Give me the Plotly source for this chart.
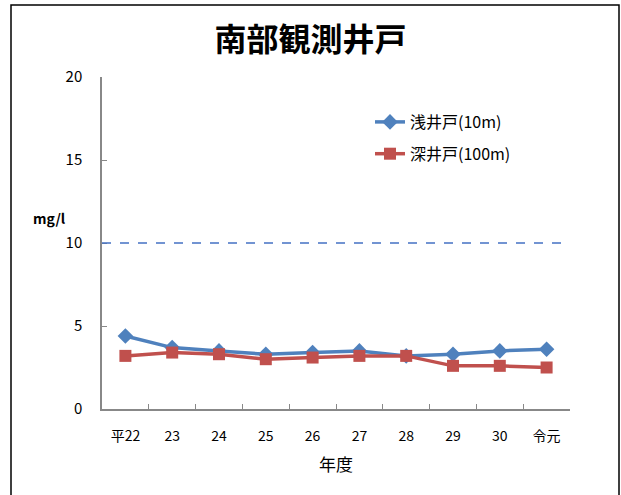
import plotly.graph_objects as go

categories = ["平22", "23", "24", "25", "26", "27", "28", "29", "30", "令元"]
shallow = [4.4, 3.7, 3.5, 3.3, 3.4, 3.5, 3.2, 3.3, 3.5, 3.6]
deep = [3.2, 3.4, 3.3, 3.0, 3.1, 3.2, 3.2, 2.6, 2.6, 2.5]
standard = 10
y_ticks = [0, 5, 10, 15, 20]

FONT = "Noto Sans CJK JP, Noto Sans, sans-serif"

fig = go.Figure()
fig.add_trace(go.Scatter(
    x=categories, y=shallow, name="浅井戸(10m)", mode="lines+markers",
    line=dict(color="#4F81BD", width=3.5),
    marker=dict(symbol="diamond", size=12, color="#4F81BD"),
    legendgroup="a"))
fig.add_trace(go.Scatter(
    x=categories, y=deep, name="深井戸(100m)", mode="lines+markers",
    line=dict(color="#C0504D", width=3.5),
    marker=dict(symbol="square", size=12, color="#C0504D"),
    legendgroup="b"))

fig.add_shape(type="line", xref="x", yref="y", x0=-0.5, x1=9.35,
              y0=standard, y1=standard,
              line=dict(color="#4472C4", width=1.5, dash="dash"))

# outer border
fig.add_shape(type="rect", xref="paper", yref="paper",
              x0=(11-102)/468, x1=(619-102)/468,
              y0=(409-500)/332, y1=(409-5)/332,
              line=dict(color="black", width=1.5))

fig.update_layout(
    width=621, height=495,
    margin=dict(l=102, r=51, t=77, b=86),
    paper_bgcolor="white", plot_bgcolor="white",
    font=dict(family=FONT, size=13, color="black"),
    title=dict(text="<b>南部観測井戸</b>", x=0.5, xanchor="center",
               y=1-40/495, yanchor="middle",
               font=dict(size=32, family=FONT, color="black")),
    legend=dict(x=(370-102)/468, y=(409-105)/332, xanchor="left", yanchor="top",
                bgcolor="rgba(0,0,0,0)", tracegroupgap=8,
                font=dict(size=16, family=FONT)),
    showlegend=True,
    xaxis=dict(type="category", range=[-0.5, 9.5], showline=True,
               linecolor="#888888", linewidth=1.5, ticks="inside",
               tickson="boundaries", ticklen=5, tickcolor="#888888",
               showgrid=False, zeroline=False,
               tickfont=dict(size=14), ticklabelstandoff=13,
               title=dict(text="年度", font=dict(size=17), standoff=16)),
    yaxis=dict(range=[0, 20], tickvals=y_ticks, showline=True,
               linecolor="#888888", linewidth=1.5, ticks="inside",
               ticklen=5, tickcolor="#888888", showgrid=False,
               zeroline=False, tickfont=dict(size=15), ticklabelstandoff=15),
)

fig.add_annotation(text="<b>mg/l</b>", xref="paper", yref="paper",
                   x=(49-102)/468, y=(409-218)/332, showarrow=False,
                   font=dict(size=14, family=FONT), xanchor="center", yanchor="middle")

fig.write_html("out.html", config={"displayModeBar": False},
               post_script="document.body.style.margin='0';document.body.style.overflow='hidden';")
